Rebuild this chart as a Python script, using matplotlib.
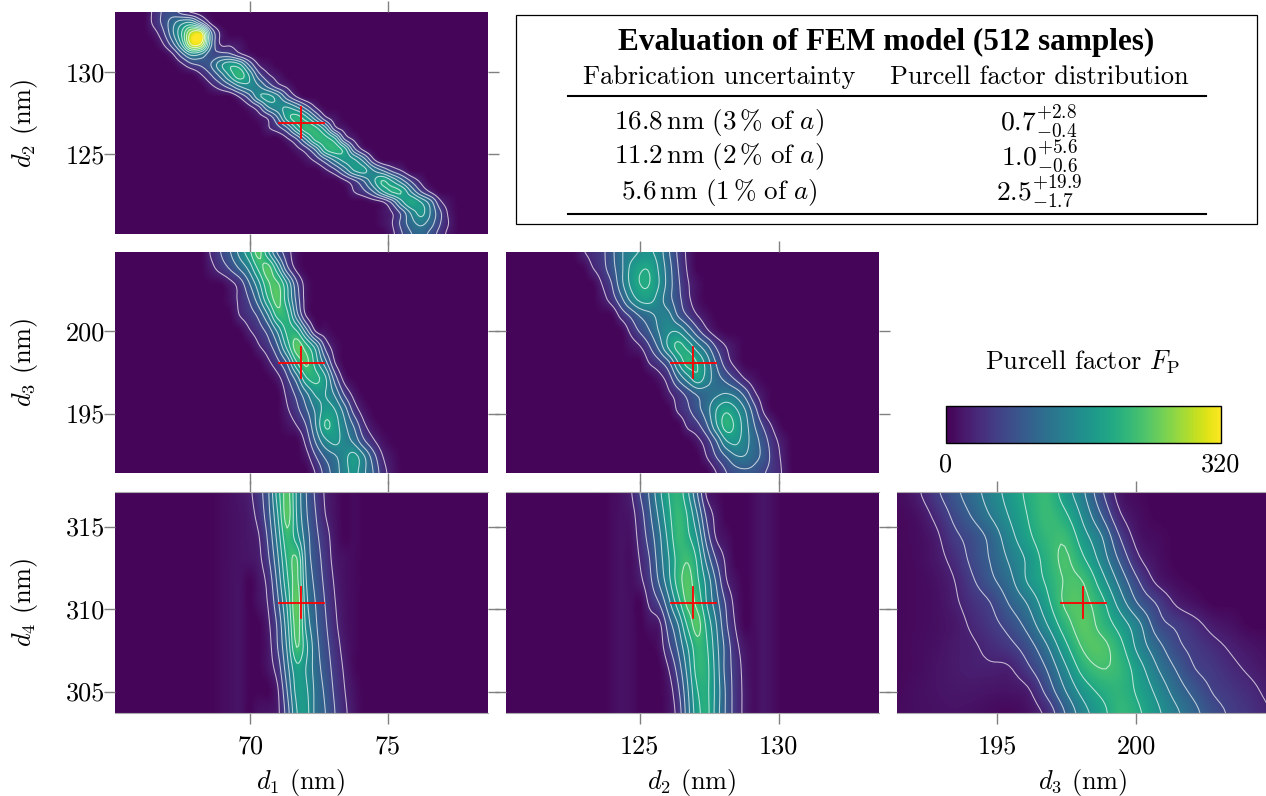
import numpy as np
import matplotlib
matplotlib.use('Agg')
import matplotlib.pyplot as plt
from matplotlib.cm import ScalarMappable
from matplotlib.colors import Normalize
from matplotlib.patches import Rectangle
from matplotlib.lines import Line2D

plt.rcParams['font.family'] = ['cmr10']
plt.rcParams['mathtext.fontset'] = 'cm'
plt.rcParams['axes.unicode_minus'] = False

W, H = 1266, 796

# axis ranges (nm)
d1_range = (65.1, 78.62)
d2_range = (120.2, 133.6)
d3_range = (191.4, 204.8)
d4_range = (303.7, 317.1)

d1_ticks = [70, 75]
d2_ticks = [125, 130]
d3_ticks = [195, 200]
d4_ticks = [305, 310, 315]

# nominal design point
d1_opt, d2_opt, d3_opt, d4_opt = 71.86, 126.93, 198.1, 310.4

# Purcell factor: one (first column, values) per row, top row first
rows_d1_d2 = [
    (4, [38, 68, 78, 50, 28, 15]),
    (4, [38, 72, 115, 150, 160, 95, 25]),
    (4, [18, 55, 120, 195, 300, 305, 110, 28]),
    (5, [30, 85, 170, 300, 285, 110, 30, 25, 18]),
    (6, [28, 85, 140, 125, 75, 75, 70, 40, 18]),
    (7, [25, 55, 70, 95, 150, 185, 170, 95, 32, 15]),
    (9, [28, 60, 105, 165, 210, 160, 80, 38, 20]),
    (10, [25, 50, 85, 130, 150, 130, 85, 45, 25]),
    (13, [35, 80, 150, 170, 140, 75, 30]),
    (14, [22, 55, 125, 150, 160, 130, 80, 30]),
    (15, [18, 38, 95, 175, 205, 170, 105, 40, 18]),
    (16, [28, 50, 90, 165, 215, 200, 140, 45, 20]),
    (18, [28, 65, 135, 205, 205, 165, 60, 25]),
    (19, [22, 50, 105, 190, 210, 175, 75, 25]),
    (20, [18, 42, 85, 135, 170, 165, 115, 40]),
    (22, [25, 55, 105, 160, 170, 130, 95, 55, 30]),
    (24, [25, 55, 95, 150, 195, 160, 110, 60, 25]),
    (25, [32, 55, 95, 155, 195, 190, 125, 65, 28]),
    (27, [15, 28, 75, 150, 190, 160, 110, 40, 15]),
    (28, [15, 32, 75, 135, 170, 125, 70, 22]),
    (28, [14, 32, 75, 115, 135, 110, 65, 28]),
    (29, [25, 62, 95, 110, 85, 50, 20]),
]
rows_d1_d3 = [
    (10, [35, 63, 93, 137, 180, 235, 165, 90, 45, 15]),
    (10, [22, 45, 68, 100, 138, 200, 235, 165, 72, 22]),
    (12, [22, 45, 92, 150, 218, 228, 158, 70, 18]),
    (12, [15, 38, 65, 115, 190, 235, 170, 85, 18]),
    (13, [32, 48, 72, 128, 205, 200, 110, 28]),
    (14, [28, 48, 76, 135, 200, 192, 110, 28, 15]),
    (15, [28, 50, 92, 170, 240, 205, 145, 55, 18]),
    (16, [25, 55, 100, 190, 230, 175, 108, 32]),
    (17, [22, 60, 112, 188, 200, 165, 80, 20]),
    (18, [40, 73, 120, 165, 160, 122, 60, 22]),
    (18, [28, 55, 92, 135, 172, 160, 112, 50, 18]),
    (18, [15, 32, 65, 128, 195, 175, 135, 92, 40, 15]),
    (20, [42, 100, 150, 168, 145, 120, 72, 38, 15]),
    (20, [20, 62, 100, 122, 150, 172, 135, 80, 33, 15]),
    (21, [35, 78, 112, 145, 170, 135, 96, 45, 20]),
]
rows_d2_d3 = [
    (8, [28, 42, 55, 85, 122, 145, 162, 165, 145, 100, 58, 25]),
    (9, [30, 50, 82, 118, 165, 187, 188, 155, 110, 64, 28]),
    (10, [32, 62, 115, 165, 192, 192, 160, 113, 70, 35, 15]),
    (10, [18, 45, 85, 135, 168, 172, 143, 108, 75, 40, 15]),
    (12, [42, 70, 100, 118, 136, 136, 92, 60, 32, 15]),
    (13, [38, 68, 95, 130, 155, 155, 118, 75, 38, 15]),
    (13, [15, 30, 62, 105, 165, 200, 182, 142, 105, 60, 32, 15]),
    (15, [34, 55, 90, 160, 205, 190, 145, 92, 48, 22]),
    (16, [20, 48, 102, 145, 180, 145, 110, 85, 58, 30, 14]),
    (17, [26, 48, 75, 100, 112, 122, 130, 118, 85, 38, 15]),
    (18, [38, 58, 85, 115, 160, 185, 165, 128, 75, 25]),
    (19, [38, 55, 92, 155, 205, 185, 142, 96, 57, 25]),
    (20, [22, 50, 95, 155, 168, 140, 110, 78, 42, 20]),
    (21, [32, 64, 94, 122, 125, 105, 85, 48, 25]),
    (22, [32, 62, 82, 88, 85, 66, 48, 28]),
]
rows_d1_d4 = [
    (13, [18, 26, 50, 90, 175, 235, 155, 96, 58, 28, 14]),
    (14, [22, 42, 84, 158, 238, 158, 100, 64, 32, 15]),
    (14, [20, 30, 70, 140, 215, 172, 110, 72, 44, 18]),
    (14, [18, 25, 58, 122, 200, 225, 118, 80, 50, 22, 14]),
    (15, [18, 42, 105, 185, 232, 128, 86, 56, 28, 14]),
    (15, [16, 34, 88, 165, 245, 138, 94, 62, 33, 16]),
    (16, [26, 70, 148, 238, 150, 100, 68, 38, 17]),
    (16, [20, 64, 133, 225, 168, 108, 75, 46, 22]),
    (16, [18, 46, 115, 182, 158, 112, 82, 52, 28]),
    (17, [28, 96, 170, 165, 118, 90, 58, 33, 15]),
    (15, [14, 16, 25, 80, 158, 170, 118, 96, 64, 38, 18]),
]
rows_d2_d4 = [
    (13, [28, 64, 100, 150, 192, 208, 165, 96, 25, 12]),
    (13, [20, 50, 90, 135, 183, 215, 188, 128, 55, 22]),
    (13, [16, 42, 78, 120, 170, 215, 198, 158, 80, 28, 14]),
    (14, [34, 64, 112, 158, 205, 220, 185, 115, 60, 26]),
    (14, [25, 55, 100, 150, 208, 235, 198, 148, 90, 35, 15]),
    (15, [38, 65, 118, 178, 232, 215, 158, 108, 60, 22]),
    (15, [15, 24, 80, 128, 198, 235, 183, 128, 70, 30]),
    (16, [15, 58, 102, 160, 212, 195, 138, 85, 42, 18]),
    (17, [32, 78, 140, 205, 200, 145, 85, 50, 22]),
    (17, [18, 58, 124, 190, 198, 148, 92, 50, 25]),
    (17, [15, 45, 115, 180, 200, 145, 92, 50, 25]),
]
rows_d3_d4 = [
    (0, [10, 25, 55, 85, 113, 142, 171, 198, 214, 176, 132, 68, 18, 8]),
    (0, [8, 14, 38, 70, 99, 130, 162, 193, 217, 197, 150, 92, 33, 12]),
    (0, [8, 11, 24, 55, 77, 105, 147, 184, 212, 218, 172, 127, 60, 18, 10]),
    (0, [7, 10, 20, 41, 71, 98, 132, 166, 204, 228, 195, 145, 86, 34, 14]),
    (0, [7, 9, 15, 30, 59, 88, 117, 163, 196, 226, 222, 172, 115, 62, 24, 10]),
    (0, [7, 9, 13, 26, 45, 64, 98, 131, 181, 228, 232, 200, 143, 90, 59, 27, 14]),
    (0, [7, 9, 13, 20, 36, 53, 75, 107, 157, 209, 238, 212, 177, 133, 77, 58, 40, 22, 14]),
    (0, [7, 10, 14, 22, 28, 40, 54, 80, 123, 182, 228, 232, 200, 147, 106, 72, 54, 40, 27, 18, 12]),
    (0, [7, 10, 16, 22, 27, 28, 29, 57, 96, 152, 205, 224, 212, 172, 128, 93, 64, 52, 38, 27, 18]),
    (0, [8, 12, 16, 20, 20, 18, 18, 27, 72, 126, 173, 200, 208, 184, 150, 113, 85, 61, 49, 38, 26]),
    (0, [9, 12, 14, 16, 14, 10, 8, 15, 40, 96, 148, 182, 212, 195, 165, 133, 103, 76, 58, 46, 33]),
]

# faint vertical stripes beside the band: column, minimum value
stripes_d1_d4 = [(11, 9), (12, 13), (13, 16), (25, 9)]
stripes_d2_d4 = [(11, 9), (12, 15), (13, 12), (26, 11), (27, 18), (28, 11)]

levels = [32, 64, 96, 128, 160, 192, 224, 256, 288]
colorbar_ticks = [0, 320]
cols_fine, cols_coarse = 40, 21


def build_grid(rows, n_cols, stripes=(), base=5.0):
    z = np.full((len(rows), n_cols), base)
    for col, val in stripes:
        z[:, col] = val
    for i, (start, vals) in enumerate(rows):
        z[i, start:start + len(vals)] = vals
    return z


def refine(z, k=5):
    # cubic resampling so the contours come out round like the shaded map
    for axis in (0, 1):
        z = np.moveaxis(z, axis, 0)
        n = z.shape[0]
        pos = np.linspace(0, n - 1, (n - 1) * k + 1)
        i = np.clip(pos.astype(int), 0, n - 2)
        t = (pos - i)[:, None]
        p0, p1 = z[np.clip(i - 1, 0, n - 1)], z[i]
        p2, p3 = z[i + 1], z[np.clip(i + 2, 0, n - 1)]
        z = 0.5 * (2 * p1 + (p2 - p0) * t + (2 * p0 - 5 * p1 + 4 * p2 - p3) * t ** 2
                   + (3 * p1 - p0 - 3 * p2 + p3) * t ** 3)
        z = np.moveaxis(z, 0, axis)
    return np.clip(z, 4, None)


def px_axes(left, top, right, bottom):
    return fig.add_axes([left / W, 1 - bottom / H, (right - left) / W, (bottom - top) / H])


def fx(x):
    return x / W


def fy(y):
    return 1 - y / H


def draw_panel(box, rows, n_cols, xr, yr, xt, yt, opt, stripes=()):
    ax = px_axes(*box)
    z = refine(build_grid(rows, n_cols, stripes))
    x = np.linspace(xr[0], xr[1], z.shape[1])
    y = np.linspace(yr[1], yr[0], z.shape[0])
    ax.imshow(z, cmap='viridis', vmin=0, vmax=320, aspect='auto', interpolation='bilinear',
              extent=(x[0], x[-1], y[-1], y[0]))
    ax.contour(x, y, z, levels=levels, colors='white', linewidths=0.75, alpha=0.7)
    ax.plot([opt[0] - 0.8, opt[0] + 0.8], [opt[1], opt[1]], color='red', lw=1.3)
    ax.plot([opt[0], opt[0]], [opt[1] - 0.94, opt[1] + 0.94], color='red', lw=1.3)
    ax.set_xlim(xr)
    ax.set_ylim(yr)
    ax.set_xticks(xt)
    ax.set_yticks(yt)
    ax.tick_params(top=True, right=True, bottom=True, left=True, direction='out', length=8,
                   width=1, color='#808080', labelbottom=False, labelleft=False,
                   labelsize=label_size)
    for s in ax.spines.values():
        s.set_visible(False)
    return ax


label_size = 18.9
fig = plt.figure(figsize=(W / 100, H / 100), dpi=100)

col_x = [(115, 488), (506, 879), (897, 1270)]
row_y = [(12, 234), (252, 473), (492, 713)]

ax12 = draw_panel((col_x[0][0], row_y[0][0], col_x[0][1], row_y[0][1]), rows_d1_d2, cols_fine,
                  d1_range, d2_range, d1_ticks, [125, 130], (d1_opt, d2_opt))
ax13 = draw_panel((col_x[0][0], row_y[1][0], col_x[0][1], row_y[1][1]), rows_d1_d3, cols_fine,
                  d1_range, d3_range, d1_ticks, d3_ticks, (d1_opt, d3_opt))
ax23 = draw_panel((col_x[1][0], row_y[1][0], col_x[1][1], row_y[1][1]), rows_d2_d3, cols_fine,
                  d2_range, d3_range, d2_ticks, d3_ticks, (d2_opt, d3_opt))
ax14 = draw_panel((col_x[0][0], row_y[2][0], col_x[0][1], row_y[2][1]), rows_d1_d4, cols_fine,
                  d1_range, d4_range, d1_ticks, d4_ticks, (d1_opt, d4_opt), stripes_d1_d4)
ax24 = draw_panel((col_x[1][0], row_y[2][0], col_x[1][1], row_y[2][1]), rows_d2_d4, cols_fine,
                  d2_range, d4_range, d2_ticks, d4_ticks, (d2_opt, d4_opt), stripes_d2_d4)
ax34 = draw_panel((col_x[2][0], row_y[2][0], col_x[2][1], row_y[2][1]), rows_d3_d4, cols_coarse,
                  d3_range, d4_range, d3_ticks, d4_ticks, (d3_opt, d4_opt))

for ax in (ax12, ax13, ax14):
    ax.tick_params(axis='y', labelleft=True, pad=-1)
for ax in (ax14, ax24, ax34):
    ax.tick_params(axis='x', labelbottom=True, pad=8)
    ax.spines['top'].set_visible(True)
    ax.spines['bottom'].set_visible(True)
    ax.spines['top'].set_color('#aaaaaa')
    ax.spines['bottom'].set_color('#aaaaaa')

for xc, name in ((301, 'd_1'), (692, 'd_2'), (1083, 'd_3')):
    fig.text(fx(xc), fy(782), f'${name}$ (nm)', ha='center', va='center', fontsize=label_size)
for yc, name in ((123, 'd_2'), (362, 'd_3'), (602, 'd_4')):
    fig.text(fx(24), fy(yc), f'${name}$ (nm)', ha='center', va='center', rotation=90,
             fontsize=label_size)

# table box
fig.add_artist(Rectangle((fx(516), fy(224)), (1257 - 516) / W, (224 - 15) / H, transform=fig.transFigure,
                         fill=False, edgecolor='black', lw=0.9))
for yr in (96, 214):
    fig.add_artist(Line2D([fx(568), fx(1206)], [fy(yr), fy(yr)], color='black', lw=1.5))

fig.text(fx(886), fy(42), 'Evaluation of FEM model (512 samples)', family='Liberation Serif',
         weight='bold', ha='center', va='center', fontsize=22.5)
fig.text(fx(719), fy(77), 'Fabrication uncertainty', ha='center', va='center', fontsize=label_size)
fig.text(fx(1039), fy(77), 'Purcell factor distribution', ha='center', va='center', fontsize=label_size)

table_left = [r'$16.8\,\mathrm{nm}\ (3\,\%\ \mathrm{of}\ a)$',
              r'$11.2\,\mathrm{nm}\ (2\,\%\ \mathrm{of}\ a)$',
              r'$5.6\,\mathrm{nm}\ (1\,\%\ \mathrm{of}\ a)$']
table_right = [r'$0.7^{+2.8}_{-0.4}$', r'$1.0^{+5.6}_{-0.6}$', r'$2.5^{+19.9}_{-1.7}$']
for yc, left, right in zip((122, 157, 192), table_left, table_right):
    fig.text(fx(719), fy(yc), left, ha='center', va='center', fontsize=19.5)
    fig.text(fx(1039), fy(yc), right, ha='center', va='center', fontsize=19.8)

# colorbar
cax = px_axes(946, 406, 1221, 443)
cb = fig.colorbar(ScalarMappable(Normalize(0, 320), 'viridis'), cax=cax, orientation='horizontal')
cb.set_ticks(colorbar_ticks)
cb.ax.tick_params(length=0, labelsize=label_size, pad=7)
cb.outline.set_linewidth(1)
fig.text(fx(1082), fy(362), r'Purcell factor $F_{\mathrm{P}}$', ha='center', va='center', fontsize=label_size)

fig.savefig('out.png', dpi=100)
